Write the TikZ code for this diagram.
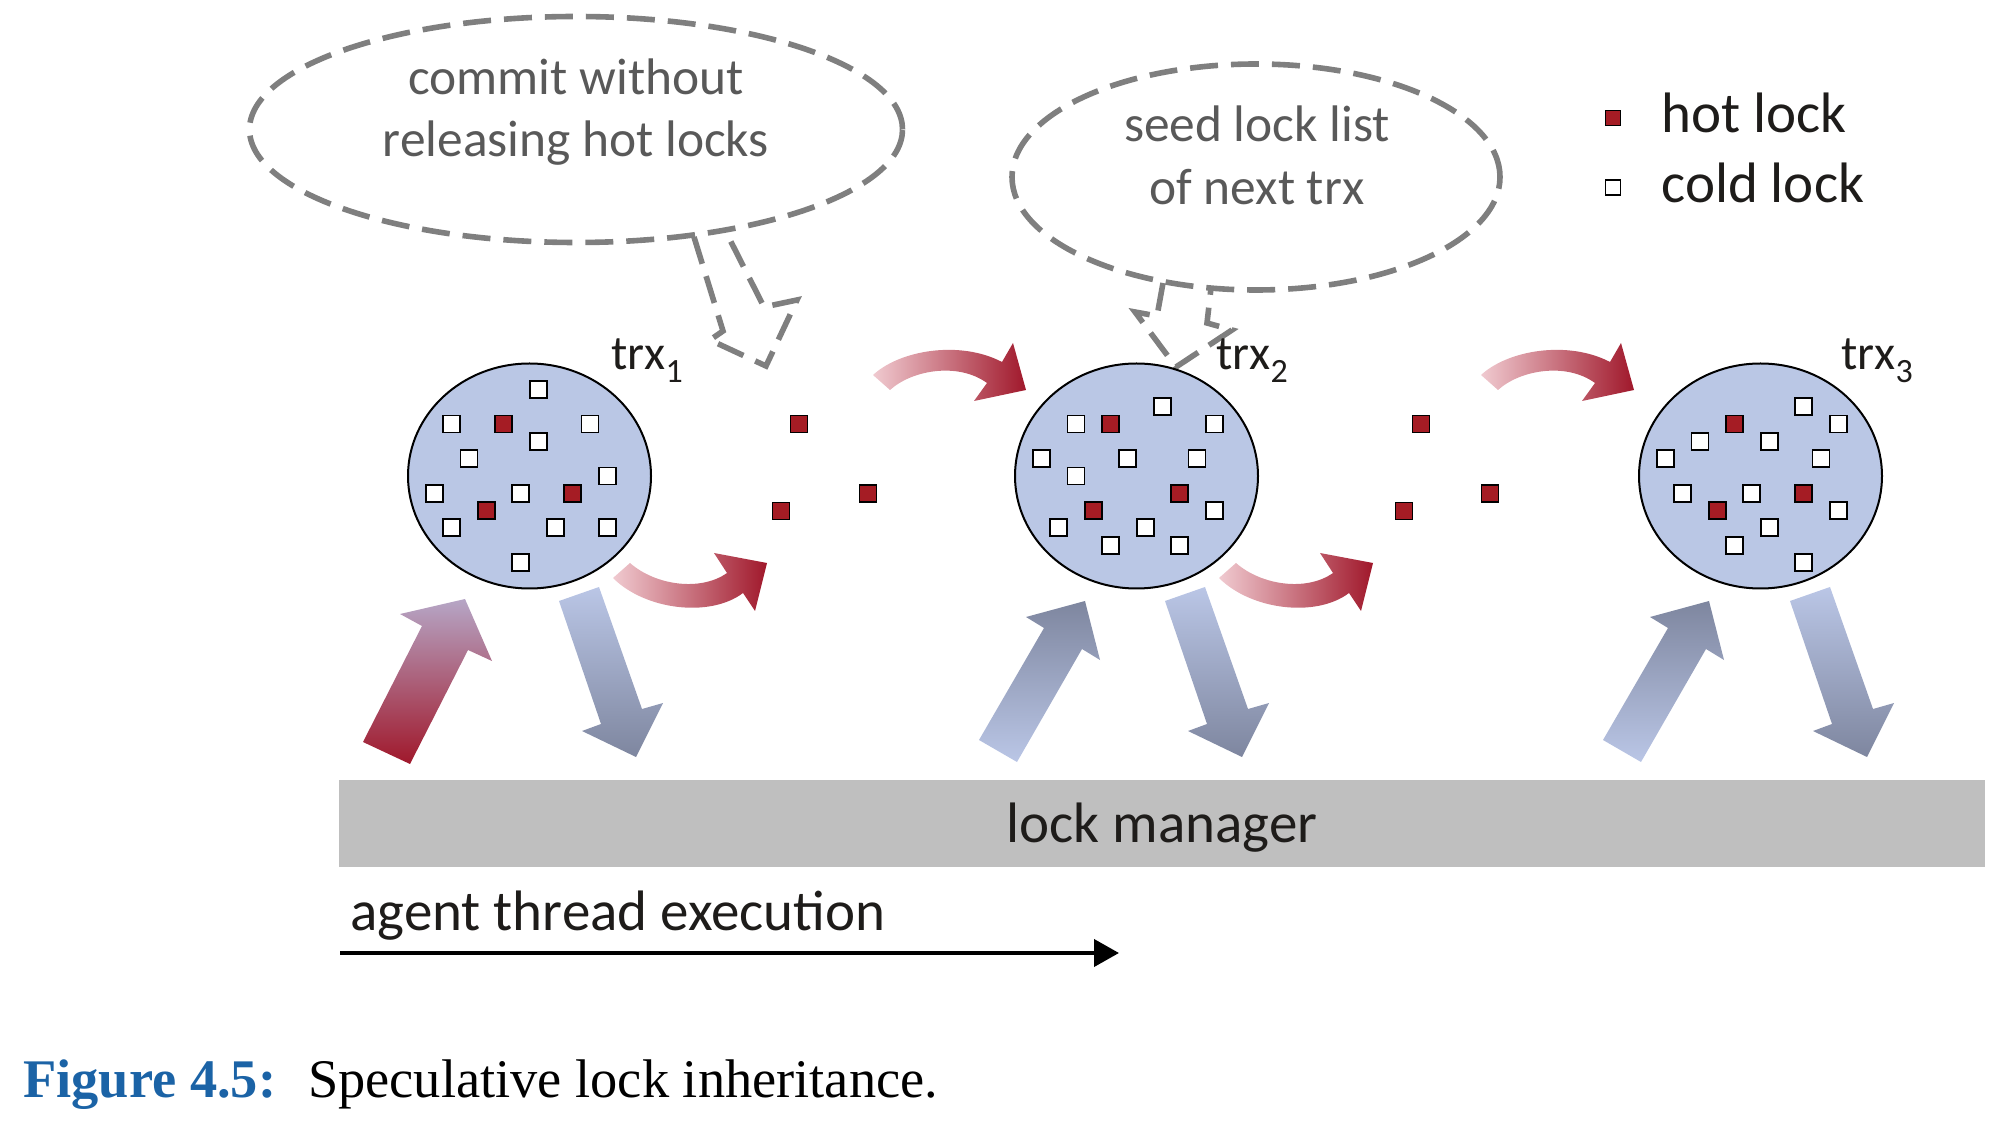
\documentclass[tikz,border=0pt]{standalone}
\usepackage{fontspec}
\setmainfont{Carlito}
\newfontfamily\capfont{Liberation Serif}
\usetikzlibrary{shapes.geometric,arrows.meta}
\definecolor{trxfill}{HTML}{BAC7E5}
\definecolor{lockred}{HTML}{A51C24}
\definecolor{bargray}{HTML}{BFBFBF}
\definecolor{callgray}{HTML}{7F7F7F}
\definecolor{calltextgray}{HTML}{595959}
\definecolor{textdark}{HTML}{1E1C1A}
\definecolor{bluelight}{HTML}{BAC6E6}
\definecolor{bluedark}{HTML}{7E869F}
\definecolor{bendlight}{HTML}{F0CAD0}
\definecolor{benddark}{HTML}{A0182B}
\definecolor{lavender}{HTML}{B6A6C6}
\definecolor{capblue}{HTML}{1B63A6}
\begin{document}
\begin{tikzpicture}[x=0.5pt, y=-0.5pt,
 trx/.style={ellipse, draw=black, line width=1pt, fill=trxfill, inner sep=0pt, minimum width=121.5pt, minimum height=112.5pt},
 callout/.style={ellipse, draw=callgray, line width=2.8pt, dash pattern=on 14pt off 6.5pt, inner sep=0pt},
 tail/.style={draw=callgray, line width=2.8pt, dash pattern=on 14pt off 6.5pt},
 lock/.style={rectangle, draw=black, line width=0.9pt, inner sep=0pt, minimum size=8.5pt},
 hotlock/.style={lock, fill=lockred},
 coldlock/.style={lock, fill=white},
 calltext/.style={inner sep=0pt, anchor=base, text=calltextgray, font=\fontsize{25.7pt}{31pt}\selectfont},
 bigtext/.style={inner sep=0pt, anchor=base west, text=textdark, font=\fontsize{28.5pt}{34pt}\selectfont},
 trxlabel/.style={inner sep=0pt, anchor=base west, text=textdark, font=\fontsize{24.3pt}{29pt}\selectfont},
 bendblock/.style={left color=bendlight, right color=benddark},
 downblock/.style={top color=bluelight, bottom color=bluedark},
 upblock/.style={top color=bluedark, bottom color=bluelight},
 hotblock/.style={top color=lavender, bottom color=benddark}]
 	\useasboundingbox (0,0) rectangle (1997,1122);
 	\node[callout, minimum width=326.5pt, minimum height=113pt] (Commit) at (576,129.5) {};
 	\node[callout, minimum width=244pt, minimum height=113pt] (Seed) at (1256,177) {};
 	\draw[tail] (694,237) -- (723,331) -- (710,340) -- (766,366) -- (797,300) -- (764,307) -- (725,230);
 	\draw[tail] (1163,283) -- (1157,316) -- (1135,312) -- (1176,367) -- (1232,330) -- (1207,323) -- (1211,288);
 	\node[calltext] (CommitA) at (576,95) {commit without};
 	\node[calltext] (CommitB) at (576,157) {releasing hot locks};
 	\node[calltext] (SeedA) at (1257,142) {seed lock list};
 	\node[calltext] (SeedB) at (1257,205) {of next trx};
 	\node[hotlock, minimum size=7.5pt] (HotKey) at (1613,118) {};
 	\node[coldlock, minimum size=7.5pt] (ColdKey) at (1613,187.5) {};
 	\node[bigtext] (HotTxt) at (1661,133) {hot lock};
 	\node[bigtext] (ColdTxt) at (1661,203) {cold lock};
 	\node[trx] (Trx1) at (529.5,476) {};
 	\node[trx] (Trx2) at (1136.5,476) {};
 	\node[trx] (Trx3) at (1760.5,476) {};
 	\node[trxlabel] (Lab1) at (611,370) {trx\raisebox{-6.5pt}{\fontsize{17pt}{17pt}\selectfont 1}};
 	\node[trxlabel] (Lab2) at (1216,370) {trx\raisebox{-6.5pt}{\fontsize{17pt}{17pt}\selectfont 2}};
 	\node[trxlabel] (Lab3) at (1841,370) {trx\raisebox{-6.5pt}{\fontsize{17pt}{17pt}\selectfont 3}};
 	\foreach \gx/\gy [count=\i] in {0.5/-5, -4.5/-3, 3.5/-3, 0.5/-2, -3.5/-1, 4.5/0, -5.5/1, -0.5/1, -4.5/3, 1.5/3, 4.5/3, -0.5/5}
 		\node[coldlock] (ColdA\i) at ([shift={(\gx*17.3,\gy*17.3)}]Trx1.center) {};
 	\foreach \gx/\gy [count=\i] in {1.5/-4, -3.5/-3, 4.5/-3, -5.5/-1, -0.5/-1, 3.5/-1, -3.5/0, 4.5/2, -4.5/3, 0.5/3, -1.5/4, 2.5/4}
 		\node[coldlock] (ColdB\i) at ([shift={(\gx*17.3,\gy*17.3)}]Trx2.center) {};
 	\foreach \gx/\gy [count=\i] in {2.5/-4, 4.5/-3, -3.5/-2, 0.5/-2, -5.5/-1, 3.5/-1, -4.5/1, -0.5/1, 4.5/2, 0.5/3, -1.5/4, 2.5/5}
 		\node[coldlock] (ColdC\i) at ([shift={(\gx*17.3,\gy*17.3)}]Trx3.center) {};
 	\foreach \t in {1,2,3}
 		\foreach \gx/\gy [count=\i] in {-1.5/-3, 2.5/1, -2.5/2}
 			\node[hotlock] (Hot\t-\i) at ([shift={(\gx*17.3,\gy*17.3)}]Trx\t.center) {};
 	\foreach \hx/\hy [count=\i] in {799/424, 868/493.5, 781/511, 1421/424, 1490/493.5, 1404/511}
 		\node[hotlock] (Pass\i) at (\hx,\hy) {};
 	\foreach \sx in {0,608}
 		\shade[bendblock, shift={(\sx,0)}] (873,375) .. controls (900,350) and (960,340) .. (1002,362) -- (1013,343) -- (1026,390) -- (974,401) -- (987,383) .. controls (958,362) and (912,370) .. (890,390) -- cycle;
 	\foreach \sx in {0,606}
 		\shade[bendblock, shift={(\sx,0)}] (613,578) .. controls (645,610) and (710,618) .. (743,593) -- (755,611) -- (767,563) -- (714,553) -- (727,573) .. controls (700,592) and (655,585) .. (630,563) -- cycle;
 	\shade[hotblock] (363,742) -- (410,764) -- (468,650) -- (492,661) -- (465,599) -- (400,614) -- (422,626) -- cycle;
 	\foreach \sx in {0,624}
 		\shade[upblock, shift={(\sx,0)}] (979,740) -- (1017,762) -- (1082,649) -- (1100,660) -- (1085,601) -- (1026,617) -- (1044,628) -- cycle;
 	\foreach \sx in {0,606,1231}
 		\shade[downblock, shift={(\sx,0)}] (559,601) -- (599,587) -- (642,709) -- (663,703) -- (636,757) -- (582,731) -- (601,724) -- cycle;
 	\node[fill=bargray, minimum width=823pt, minimum height=43.5pt, inner sep=0pt, text=textdark, font=\fontsize{28.5pt}{34pt}\selectfont, text height=22pt, text depth=3.3pt] (LockMgr) at (1162,823.3) {lock manager};
 	\node[bigtext] (Agent) at (350,930) {agent thread execution};
 	\coordinate (ExecFrom) at (340,953);
 	\coordinate (ExecTo) at (1119,953);
 	\draw[line width=2pt, -{Triangle[length=12.5pt, width=13.5pt]}] (ExecFrom) -- (ExecTo);
 	\node[anchor=base west, inner sep=0pt, font=\capfont\fontsize{27.2pt}{32pt}\selectfont] (Caption) at (23,1097) {\textcolor{capblue}{\bfseries Figure 4.5:}\hspace{16pt}Speculative lock inheritance.};
 	\end{tikzpicture}
\end{document}
